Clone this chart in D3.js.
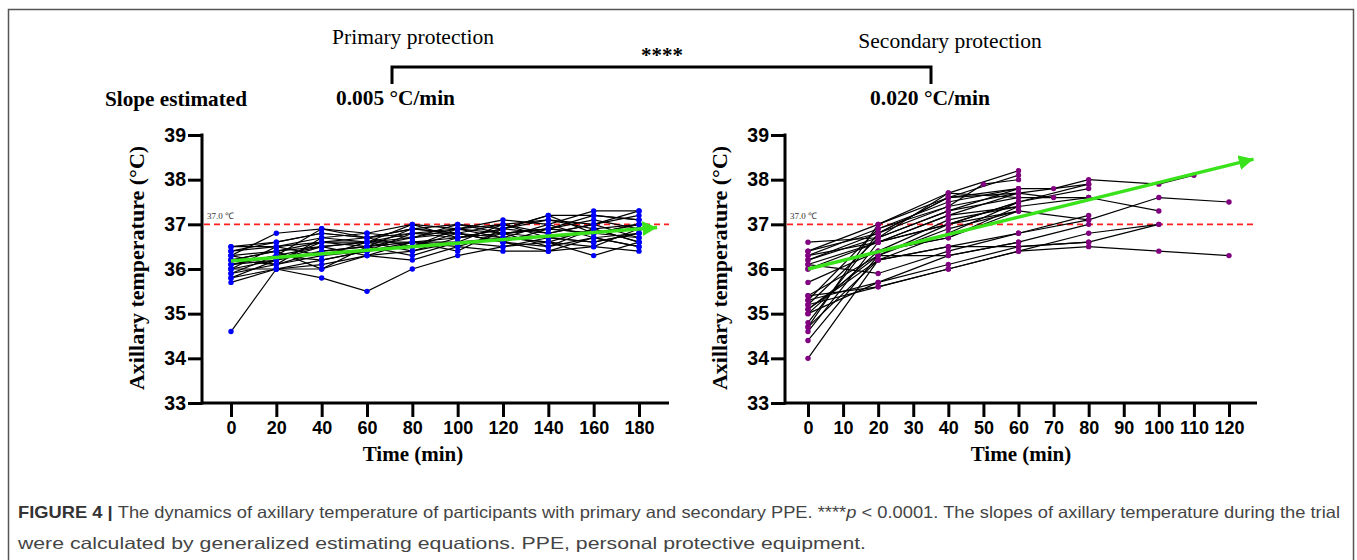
<!DOCTYPE html>
<html>
<head>
<meta charset="utf-8">
<script src="https://cdn.jsdelivr.net/npm/d3@7"></script>
<style>
  body { margin: 0; background: #fff; }
  svg { display: block; }
</style>
</head>
<body>
<svg id="chart" width="1357" height="560"></svg>
<script>
// ---- data ----
const yTicks = [33, 34, 35, 36, 37, 38, 39];
const primTimes = [0, 20, 40, 60, 80, 100, 120, 140, 160, 180];
const secTimes = [0, 20, 40, 50, 60, 70, 80, 100, 110, 120];
const secTickValues = [0, 10, 20, 30, 40, 50, 60, 70, 80, 90, 100, 110, 120];

// primary protection, one row per participant (values at primTimes)
const primTemps = [
  [34.6, 36.0, 36.2, 36.4, 36.6, 36.7, 36.8, 36.9, 36.8, 36.9],
  [36.0, 36.0, 35.8, 35.5, 36.0, 36.3, 36.5, 36.7, 36.8, 36.7],
  [36.3, 36.8, 36.9, 36.8, 37.0, 36.9, 37.1, 37.0, 37.3, 37.3],
  [36.5, 36.6, 36.8, 36.7, 36.9, 37.0, 36.9, 37.2, 37.2, 37.1],
  [36.4, 36.5, 36.7, 36.6, 36.8, 36.8, 37.0, 37.1, 36.9, 37.0],
  [36.2, 36.4, 36.6, 36.7, 36.8, 36.7, 36.9, 36.8, 37.0, 37.2],
  [36.1, 36.3, 36.5, 36.6, 36.7, 36.9, 36.8, 36.7, 36.6, 36.8],
  [36.0, 36.2, 36.4, 36.5, 36.6, 36.6, 36.7, 36.6, 36.9, 36.6],
  [35.9, 36.1, 36.3, 36.4, 36.5, 36.8, 36.6, 36.5, 36.7, 36.5],
  [35.8, 36.0, 36.0, 36.3, 36.2, 36.5, 36.4, 36.4, 36.5, 36.4],
  [35.7, 36.0, 36.1, 36.3, 36.4, 36.6, 36.5, 36.6, 36.3, 36.6],
  [36.3, 36.4, 36.5, 36.6, 36.4, 36.7, 36.8, 36.9, 37.1, 36.9],
  [36.2, 36.1, 36.4, 36.5, 36.7, 36.8, 36.7, 37.0, 36.7, 36.8],
  [36.4, 36.6, 36.8, 36.7, 36.5, 36.9, 37.0, 36.8, 37.0, 36.7],
  [36.1, 36.2, 36.6, 36.5, 36.9, 36.8, 36.6, 36.9, 36.8, 37.0],
  [36.0, 36.5, 36.3, 36.6, 36.6, 36.4, 36.9, 37.1, 37.0, 37.3],
  [35.9, 36.3, 36.2, 36.4, 36.8, 36.9, 36.7, 36.6, 36.5, 36.9],
  [36.3, 36.1, 36.7, 36.8, 36.7, 37.0, 36.8, 36.5, 36.9, 36.6],
  [36.2, 36.4, 36.0, 36.5, 36.3, 36.6, 37.0, 36.7, 36.6, 36.8],
  [35.8, 36.2, 36.5, 36.3, 36.6, 36.5, 36.8, 36.9, 37.2, 37.1],
  [36.1, 36.3, 36.9, 36.7, 36.9, 36.8, 36.6, 36.4, 36.7, 36.5],
  [36.5, 36.5, 36.6, 36.6, 37.0, 36.7, 36.9, 37.2, 36.8, 37.0]
];

// secondary protection, one row per participant (values at secTimes, null = not measured)
const secTemps = [
  [36.6, 36.7, 37.7, null, 38.2, null, null, null, null, null],
  [36.4, 36.8, 37.6, null, 38.1, null, null, null, null, null],
  [36.3, 36.9, 37.4, 37.9, 38.0, null, null, null, null, null],
  [36.2, 36.7, 37.3, null, 37.8, 37.8, 38.0, 37.9, 38.1, null],
  [36.1, 36.6, 37.2, null, 37.7, null, 37.9, null, null, null],
  [36.2, 36.8, 37.6, null, 37.7, 37.6, null, null, null, null],
  [36.0, 36.6, 37.0, null, 37.5, null, 37.8, null, null, null],
  [36.4, 37.0, 37.7, null, 37.6, null, 37.6, 37.3, null, null],
  [35.7, 36.4, 37.1, null, 37.4, null, null, null, null, null],
  [35.4, 36.3, 36.9, null, 37.3, null, null, null, null, null],
  [35.3, 36.9, 37.5, null, 37.8, null, null, null, null, null],
  [35.2, 36.7, 37.3, null, 37.6, null, null, null, null, null],
  [35.1, 36.2, 36.8, null, 37.5, null, 37.9, null, null, null],
  [35.0, 36.4, 36.7, null, 37.3, null, null, null, null, null],
  [34.8, 36.8, 37.4, null, 37.7, null, null, null, null, null],
  [34.7, 37.0, 37.6, null, 37.8, null, null, null, null, null],
  [34.6, 36.6, 37.2, null, 37.4, null, null, null, null, null],
  [34.4, 36.3, 37.0, null, 37.5, null, null, null, null, null],
  [34.0, 36.2, 36.5, null, 36.8, null, 37.1, 37.6, null, 37.5],
  [36.1, 35.9, 36.4, null, 36.8, null, 37.2, null, null, null],
  [35.4, 35.6, 36.0, null, 36.4, null, 36.5, 36.4, null, 36.3],
  [35.3, 35.7, 36.1, null, 36.5, null, 36.6, 37.0, null, null],
  [35.2, 35.6, 36.0, null, 36.4, null, 36.8, 37.0, null, null],
  [35.0, 35.7, 36.3, null, 36.6, null, 37.0, null, null, null],
  [34.7, 36.2, 36.5, null, 36.5, null, 36.6, null, null, null],
  [36.0, 36.4, 36.7, null, 37.4, null, 37.6, null, null, null],
  [35.1, 36.3, 36.3, null, 36.6, null, null, null, null, null],
  [36.3, 36.6, 37.0, null, 37.3, null, 37.1, null, null, null]
];

// GEE trend arrows [time, temperature]
const primTrend = [[0, 36.18], [188, 36.93]];
const secTrend = [[0, 36.0], [127, 38.46]];
const threshold = 37.0;
const groupNames = ['Primary protection', 'Secondary protection'];
const slopeLabels = ['0.005 \u00B0C/min', '0.020 \u00B0C/min'];

// ---- drawing ----
const svg = d3.select('#chart');
const serif = '"Liberation Serif", "Times New Roman", serif';
const sans = '"Liberation Sans", Arial, sans-serif';

// figure frame
svg.append('rect')
    .attr('x', 8.5).attr('y', 9.5)
    .attr('width', 1345).attr('height', 620)
    .attr('fill', 'none')
    .attr('stroke', '#555').attr('stroke-width', 1.5);

const defs = svg.append('defs');
defs.append('marker')
    .attr('id', 'arrow')
    .attr('viewBox', '0 0 10 10')
    .attr('refX', 10).attr('refY', 5)
    .attr('markerWidth', 4.2).attr('markerHeight', 4.2)
    .attr('markerUnits', 'strokeWidth')
    .attr('orient', 'auto')
    .append('path')
    .attr('d', 'M0,0L10,5L0,10Z')
    .attr('fill', '#3ae21c');

function drawPanel(opts) {
    const x = d3.scaleLinear().domain(opts.xDomain).range(opts.xRange);
    const y = d3.scaleLinear().domain([33, 39]).range([403, 135]);
    const g = svg.append('g');
    const axisX = opts.axisX;

    // y axis
    const yAxis = g.append('g')
        .attr('transform', `translate(${axisX},0)`)
        .call(d3.axisLeft(y).tickValues(yTicks).tickSize(14).tickPadding(2).tickFormat(d3.format('d')));
    yAxis.select('.domain').remove();
    yAxis.selectAll('.tick line').attr('stroke', '#000').attr('stroke-width', 3);
    yAxis.selectAll('.tick text')
        .attr('fill', '#000')
        .style('font-family', sans).style('font-size', '19.5px').style('font-weight', 'bold');
    g.append('line')
        .attr('x1', axisX).attr('x2', axisX)
        .attr('y1', y(39) - 1.5).attr('y2', y(33) + 1.5)
        .attr('stroke', '#000').attr('stroke-width', 3);

    // x axis
    g.append('line')
        .attr('x1', axisX).attr('x2', opts.axisEnd)
        .attr('y1', y(33)).attr('y2', y(33))
        .attr('stroke', '#000').attr('stroke-width', 3);
    const xAxis = g.append('g')
        .attr('transform', `translate(0,${y(33) + 1})`)
        .call(d3.axisBottom(x).tickValues(opts.xTicks).tickSize(13).tickPadding(4).tickFormat(d3.format('d')));
    xAxis.select('.domain').remove();
    xAxis.selectAll('.tick line').attr('stroke', '#000').attr('stroke-width', 3);
    xAxis.selectAll('.tick text')
        .attr('fill', '#000')
        .style('font-family', sans).style('font-size', '18px').style('font-weight', 'bold');

    // axis titles
    g.append('text')
        .attr('x', opts.xTitleX).attr('y', 461)
        .attr('text-anchor', 'middle')
        .style('font-family', serif).style('font-size', '21px').style('font-weight', 'bold')
        .text('Time (min)');
    g.append('text')
        .attr('transform', `translate(${opts.yTitleX},268) rotate(-90)`)
        .attr('text-anchor', 'middle')
        .style('font-family', serif).style('font-size', '22px').style('font-weight', 'bold')
        .text('Axillary temperature (\u00B0C)');

    // 37.0 threshold
    g.append('line')
        .attr('x1', axisX + 2).attr('x2', opts.axisEnd)
        .attr('y1', y(threshold)).attr('y2', y(threshold))
        .attr('stroke', '#ff1f1f').attr('stroke-width', 1.6)
        .attr('stroke-dasharray', '6,4');
    g.append('text')
        .attr('x', axisX + 5).attr('y', y(threshold) - 5)
        .style('font-family', serif).style('font-size', '9px').attr('fill', '#333')
        .text('37.0 \u2103');

    // participant lines
    const line = d3.line().x(d => x(d[0])).y(d => y(d[1]));
    const series = opts.temps.map(row => row
        .map((v, i) => [opts.times[i], v])
        .filter(d => d[1] !== null));
    g.append('g').selectAll('path')
        .data(series)
        .join('path')
        .attr('d', line)
        .attr('fill', 'none')
        .attr('stroke', '#000').attr('stroke-width', 1.2);
    g.append('g').selectAll('circle')
        .data(series.flat())
        .join('circle')
        .attr('cx', d => x(d[0])).attr('cy', d => y(d[1]))
        .attr('r', 2.7)
        .attr('fill', opts.dotColor);

    // trend arrow
    g.append('path')
        .attr('d', line(opts.trend))
        .attr('fill', 'none')
        .attr('stroke', '#3ae21c').attr('stroke-width', 3.5)
        .attr('marker-end', 'url(#arrow)');
}

drawPanel({
    xDomain: [0, 180], xRange: [231, 639], axisX: 202, axisEnd: 669,
    xTicks: primTimes, times: primTimes, temps: primTemps,
    dotColor: '#0000ff', trend: primTrend, xTitleX: 413, yTitleX: 144
});
drawPanel({
    xDomain: [0, 120], xRange: [808, 1229], axisX: 785, axisEnd: 1257,
    xTicks: secTickValues, times: secTimes, temps: secTemps,
    dotColor: '#800080', trend: secTrend, xTitleX: 1021, yTitleX: 727
});

// header: groups, significance bracket, slopes
svg.append('text')
    .attr('x', 413).attr('y', 44).attr('text-anchor', 'middle')
    .style('font-family', serif).style('font-size', '21.5px')
    .text(groupNames[0]);
svg.append('text')
    .attr('x', 950).attr('y', 48).attr('text-anchor', 'middle')
    .style('font-family', serif).style('font-size', '21.5px')
    .text(groupNames[1]);
svg.append('path')
    .attr('d', 'M392,84V67H931V84')
    .attr('fill', 'none').attr('stroke', '#000').attr('stroke-width', 3);
svg.append('text')
    .attr('x', 662).attr('y', 62).attr('text-anchor', 'middle')
    .style('font-family', serif).style('font-size', '21px').style('font-weight', 'bold')
    .text('****');
svg.append('text')
    .attr('x', 105).attr('y', 106)
    .attr('textLength', 142).attr('lengthAdjust', 'spacingAndGlyphs')
    .style('font-family', serif).style('font-size', '21px').style('font-weight', 'bold')
    .text('Slope estimated');
svg.append('text')
    .attr('x', 336).attr('y', 105)
    .attr('textLength', 119).attr('lengthAdjust', 'spacingAndGlyphs')
    .style('font-family', serif).style('font-size', '21px').style('font-weight', 'bold')
    .text(slopeLabels[0]);
svg.append('text')
    .attr('x', 870).attr('y', 105)
    .attr('textLength', 120).attr('lengthAdjust', 'spacingAndGlyphs')
    .style('font-family', serif).style('font-size', '21px').style('font-weight', 'bold')
    .text(slopeLabels[1]);

// caption
const cap1 = svg.append('text')
    .attr('x', 18).attr('y', 518)
    .attr('textLength', 1322).attr('lengthAdjust', 'spacingAndGlyphs')
    .style('font-family', sans).style('font-size', '16.5px').attr('fill', '#444');
cap1.append('tspan').style('font-weight', 'bold').attr('fill', '#333').text('FIGURE 4 | ');
cap1.append('tspan').text('The dynamics of axillary temperature of participants with primary and secondary PPE. ****');
cap1.append('tspan').style('font-style', 'italic').text('p');
cap1.append('tspan').text(' < 0.0001. The slopes of axillary temperature during the trial');
svg.append('text')
    .attr('x', 18).attr('y', 549)
    .attr('textLength', 848).attr('lengthAdjust', 'spacingAndGlyphs')
    .style('font-family', sans).style('font-size', '16.5px').attr('fill', '#444')
    .text('were calculated by generalized estimating equations. PPE, personal protective equipment.');
</script>
</body>
</html>
